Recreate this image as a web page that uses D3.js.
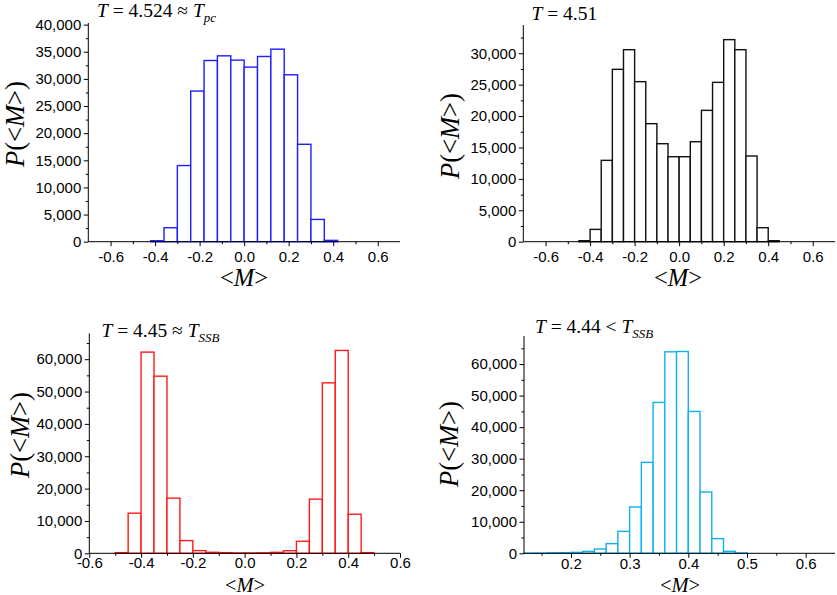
<!DOCTYPE html>
<html>
<head>
<meta charset="utf-8">
<script src="https://cdn.jsdelivr.net/npm/d3@7/dist/d3.min.js"></script>
<style>
body { margin: 0; background: #fff; }
svg text { font-family: "Liberation Sans", Arial, sans-serif; fill: #000; }
svg .serif { font-family: "Liberation Serif", "Times New Roman", serif; }
</style>
</head>
<body>
<svg id="fig" width="837" height="595"></svg>
<script>
// histogram counts (bins of equal width starting at binStart)
var countsPc  = [180, 2570, 14030, 27760, 33390, 34250, 33460, 32170, 34130, 35480, 30760, 17950, 4100, 245];
var counts451 = [160, 1960, 12950, 27440, 30570, 25480, 18790, 15600, 13530, 13530, 15920, 20910, 25370, 32170, 30570, 13640, 2230, 160];
var countsSsb = [200, 12400, 62190, 54750, 17050, 3930, 830, 310, 200, 100, 100, 150, 300, 800, 3720, 16740, 52690, 62700, 12090, 200];
var counts444 = [30, 60, 150, 200, 300, 600, 1370, 3060, 6970, 14680, 28830, 47840, 63890, 63990, 44980, 19430, 4650, 630, 100];

var binStart = [-0.42, -0.45, -0.5, 0.12];
var binWidth = [0.06, 0.05, 0.05, 0.02];

var xTicksWide  = [-0.6, -0.4, -0.2, 0.0, 0.2, 0.4, 0.6];
var xMinorWide  = [-0.5, -0.3, -0.1, 0.1, 0.3, 0.5];
var xTicksRight = [0.2, 0.3, 0.4, 0.5, 0.6];
var xMinorRight = [0.15, 0.25, 0.35, 0.45, 0.55];

var yTicks40 = [0, 5000, 10000, 15000, 20000, 25000, 30000, 35000, 40000];
var yMinor40 = [2500, 7500, 12500, 17500, 22500, 27500, 32500, 37500];
var yTicks30 = [0, 5000, 10000, 15000, 20000, 25000, 30000];
var yMinor30 = [2500, 7500, 12500, 17500, 22500, 27500, 32500];
var yTicks60 = [0, 10000, 20000, 30000, 40000, 50000, 60000];
var yMinor60 = [5000, 15000, 25000, 35000, 45000, 55000, 65000];

var titles = [
	{main: '4.524 \u2248 ', sub: 'pc'},
	{main: '4.51', sub: null},
	{main: '4.45 \u2248 ', sub: 'SSB'},
	{main: '4.44 < ', sub: 'SSB'}
];

var colors = ['#1f1fff', '#111111', '#ff1a1a', '#12b0ee'];

var panels = [
	{counts: countsPc, left: 88.3, right: 400, top: 23, bottom: 241.7, xDom: [-0.7, 0.7], yMax: 40300,
		xt: xTicksWide, xm: xMinorWide, yt: yTicks40, ym: yMinor40, xlab: 20,
		title: [97, 17], ylabel: [24, 124], xlabel: [244, 286], xlabSize: 24.5},
	{counts: counts451, left: 523.3, right: 835, top: 25, bottom: 241.7, xDom: [-0.7, 0.7], yMax: 34500,
		xt: xTicksWide, xm: xMinorWide, yt: yTicks30, ym: yMinor30, xlab: 20,
		title: [531.5, 19.5], ylabel: [459, 136], xlabel: [678, 286], xlabSize: 24.5},
	{counts: countsSsb, left: 89.3, right: 400, top: 333.3, bottom: 553.3, xDom: [-0.6, 0.6], yMax: 68000,
		xt: xTicksWide, xm: xMinorWide, yt: yTicks60, ym: yMinor60, xlab: 14.5,
		title: [101.5, 336.5], ylabel: [29, 435], xlabel: [245, 591.5], xlabSize: 20.5},
	{counts: counts444, left: 524, right: 835, top: 336, bottom: 553.3, xDom: [0.12, 0.65], yMax: 68900,
		xt: xTicksRight, xm: xMinorRight, yt: yTicks60, ym: yMinor60, xlab: 16,
		title: [535, 333], ylabel: [458, 444], xlabel: [680, 591.5], xlabSize: 20.5}
];

var svg = d3.select('#fig');
var loc = d3.formatLocale({decimal: '.', thousands: ',', grouping: [3], currency: ['', ''], minus: '-'});
var fmtX = loc.format('.1f');
var fmtY = loc.format(',');

panels.forEach(function(p, i) {
	var x = d3.scaleLinear().domain(p.xDom).range([p.left, p.right]);
	var y = d3.scaleLinear().domain([0, p.yMax]).range([p.bottom, p.top]);
	var g = svg.append('g');

	// bars
	g.selectAll('rect.bar').data(p.counts).enter().append('rect')
		.attr('class', 'bar')
		.attr('x', function(d, k) { return x(binStart[i] + k * binWidth[i]); })
		.attr('width', function(d, k) { return x(binStart[i] + (k + 1) * binWidth[i]) - x(binStart[i] + k * binWidth[i]); })
		.attr('y', function(d) { return y(d); })
		.attr('height', function(d) { return p.bottom - y(d); })
		.style('fill', '#fff')
		.style('stroke', colors[i])
		.style('stroke-width', 1.4);

	// minor ticks
	g.append('g').attr('transform', 'translate(0,' + p.bottom + ')')
		.call(d3.axisBottom(x).tickValues(p.xm).tickSize(2.5).tickFormat('').tickSizeOuter(0))
		.call(function(a) { a.select('.domain').remove(); });
	g.append('g').attr('transform', 'translate(' + p.left + ',0)')
		.call(d3.axisLeft(y).tickValues(p.ym).tickSize(2.5).tickFormat('').tickSizeOuter(0))
		.call(function(a) { a.select('.domain').remove(); });

	// major axes
	var xa = g.append('g').attr('transform', 'translate(0,' + p.bottom + ')')
		.call(d3.axisBottom(x).tickValues(p.xt).tickFormat(fmtX).tickSize(4.5).tickPadding(0).tickSizeOuter(0));
	xa.selectAll('text').attr('dy', null).attr('y', p.xlab).style('font-size', '15px');
	var ya = g.append('g').attr('transform', 'translate(' + p.left + ',0)')
		.call(d3.axisLeft(y).tickValues(p.yt).tickFormat(fmtY).tickSize(4.5).tickPadding(2.5).tickSizeOuter(0));
	ya.selectAll('text').style('font-size', '15px');
	g.selectAll('.domain, .tick line').style('stroke', '#000').style('stroke-width', 1);
	g.selectAll('.domain').attr('d', null);
	g.append('line').attr('x1', p.left).attr('x2', p.right).attr('y1', p.bottom).attr('y2', p.bottom)
		.style('stroke', '#000');
	g.append('line').attr('x1', p.left).attr('x2', p.left).attr('y1', p.top).attr('y2', p.bottom)
		.style('stroke', '#000');

	// title
	var t = g.append('text').attr('class', 'serif')
		.attr('x', p.title[0]).attr('y', p.title[1]).style('font-size', '19.5px');
	t.append('tspan').style('font-style', 'italic').text('T');
	t.append('tspan').text(' = ' + titles[i].main);
	if (titles[i].sub) {
		t.append('tspan').style('font-style', 'italic').text('T');
		t.append('tspan').style('font-style', 'italic').style('font-size', '13px')
			.attr('dy', 5).text(titles[i].sub);
	}

	// y label (baseline x, centre y)
	var yl = g.append('text').attr('class', 'serif')
		.attr('transform', 'translate(' + p.ylabel[0] + ',' + p.ylabel[1] + ') rotate(-90)')
		.attr('text-anchor', 'middle').style('font-size', '26.5px');
	yl.append('tspan').style('font-style', 'italic').text('P');
	yl.append('tspan').text('(<');
	yl.append('tspan').style('font-style', 'italic').text('M');
	yl.append('tspan').text('>)');

	// x label
	var xl = g.append('text').attr('class', 'serif')
		.attr('x', p.xlabel[0]).attr('y', p.xlabel[1])
		.attr('text-anchor', 'middle').style('font-size', p.xlabSize + 'px');
	xl.append('tspan').text('<');
	xl.append('tspan').style('font-style', 'italic').text('M');
	xl.append('tspan').text('>');
});
</script>
</body>
</html>
